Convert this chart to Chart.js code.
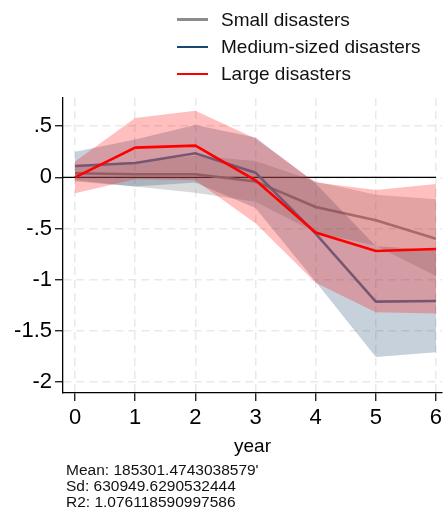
<!DOCTYPE html>
<html>
<head>
<meta charset="utf-8">
<script src="https://cdn.jsdelivr.net/npm/chart.js@4.4.1/dist/chart.umd.min.js"></script>
<style>
  html, body { margin: 0; padding: 0; background: #fff; }
  #wrap { position: relative; width: 447px; height: 507px; font-family: "Liberation Sans", Arial, Helvetica, sans-serif; color: #111; }
  #chart { position: absolute; left: 0; top: 0; }
  #legend { position: absolute; left: 177px; top: 6px; font-size: 19px; }
  #legend .row { display: flex; align-items: center; height: 27px; }
  #legend .key { width: 31px; margin-right: 13px; }
  #notes { position: absolute; left: 66px; top: 462px; font-size: 15.5px; line-height: 16px; white-space: pre; }
</style>
</head>
<body>
<div id="wrap">
  <canvas id="chart" width="447" height="507"></canvas>
  <div id="legend"></div>
  <div id="notes"></div>
</div>
<script>
// datos
const years = [0, 1, 2, 3, 4, 5, 6];
const xTicks = [0, 1, 2, 3, 4, 5, 6];
const yTicks = [-2, -1.5, -1, -0.5, 0, 0.5];
const yTickLabels = ['-2', '-1.5', '-1', '-.5', '0', '.5'];

const smallCoef = [0.04, 0.03, 0.03, -0.04, -0.29, -0.42, -0.60];
const smallLo   = [-0.04, -0.09, -0.15, -0.24, -0.54, -0.67, -0.965];
const smallHi   = [0.12, 0.15, 0.21, 0.16, -0.04, -0.17, -0.215];

const medCoef = [0.11, 0.14, 0.235, 0.045, -0.55, -1.215, -1.21];
const medLo   = [-0.03, -0.09, -0.05, -0.30, -1.02, -1.755, -1.71];
const medHi   = [0.25, 0.37, 0.51, 0.39, -0.06, -0.675, -0.71];

const largeCoef = [0, 0.29, 0.31, -0.03, -0.54, -0.72, -0.70];
const largeLo   = [-0.155, -0.02, -0.03, -0.45, -1.03, -1.32, -1.33];
const largeHi   = [0.155, 0.58, 0.65, 0.38, -0.05, -0.125, -0.065];

const seriesLabels = ['Small disasters', 'Medium-sized disasters', 'Large disasters'];
const notes = ["Mean: 185301.4743038579'", 'Sd: 630949.6290532444', 'R2: 1.076118590997586'];

const COLORS = {
  small:  { key: '#8c8c8c', line: '#8c8c8c', band: 'rgba(128,128,128,0.30)', width: 2.5 },
  medium: { key: '#1a476f', line: '#4a7595', band: 'rgba(26,71,111,0.25)', width: 2.5 },
  large:  { key: '#ff0000', line: '#ff0000', band: 'rgba(255,0,0,0.25)', width: 2.6 }
};

function pts(ys) {
  return years.map((x, i) => ({ x: x, y: ys[i] }));
}

function grupo(label, coef, lo, hi, c, baseOrder) {
  return [
    { label: label + ' lo', data: pts(lo), borderWidth: 0, pointRadius: 0, fill: false, order: baseOrder + 2 },
    { label: label + ' hi', data: pts(hi), borderWidth: 0, pointRadius: 0, fill: '-1', backgroundColor: c.band, order: baseOrder + 1 },
    { label: label, data: pts(coef), borderColor: c.line, borderWidth: c.width, pointRadius: 0, fill: false, tension: 0, order: baseOrder }
  ];
}

const zeroLine = {
  id: 'zeroLine',
  beforeDatasetsDraw(chart) {
    const { ctx, chartArea, scales } = chart;
    const y0 = scales.y.getPixelForValue(0);
    const xEnd = scales.x.getPixelForValue(years[years.length - 1]);
    ctx.save();
    ctx.strokeStyle = '#000';
    ctx.lineWidth = 1.2;
    ctx.beginPath();
    ctx.moveTo(chartArea.left, y0);
    ctx.lineTo(xEnd, y0);
    ctx.stroke();
    ctx.restore();
  }
};

const gridBase = {
  color: '#e9e9e9',
  lineWidth: 1.5,
  drawTicks: true,
  tickLength: 8,
  tickColor: '#000',
  tickWidth: 1.2,
  tickBorderDash: []
};
const borderBase = { color: '#000', width: 1.3, dash: [8, 5] };

new Chart(document.getElementById('chart').getContext('2d'), {
  type: 'line',
  data: {
    datasets: [
      ...grupo(seriesLabels[0], smallCoef, smallLo, smallHi, COLORS.small, 6),
      ...grupo(seriesLabels[1], medCoef, medLo, medHi, COLORS.medium, 3),
      ...grupo(seriesLabels[2], largeCoef, largeLo, largeHi, COLORS.large, 0)
    ]
  },
  options: {
    responsive: false,
    animation: false,
    layout: { padding: { left: 0, top: 98, right: 5, bottom: 46 } },
    plugins: { legend: { display: false }, tooltip: { enabled: false } },
    scales: {
      x: {
        type: 'linear',
        min: -0.2,
        max: 6.1,
        afterBuildTicks: s => { s.ticks = xTicks.map(v => ({ value: v })); },
        afterFit: s => { s.height = 68; },
        grid: gridBase,
        border: borderBase,
        ticks: { color: '#000', font: { family: 'Liberation Sans', size: 22 }, padding: 4, maxRotation: 0 },
        title: { display: true, text: 'year', color: '#000', font: { family: 'Liberation Sans', size: 19 }, padding: { top: 0, bottom: 3 } }
      },
      y: {
        type: 'linear',
        min: -2.108,
        max: 0.775,
        afterBuildTicks: s => { s.ticks = yTicks.map(v => ({ value: v })); },
        afterFit: s => { s.width = 63; },
        grid: gridBase,
        border: borderBase,
        ticks: {
          color: '#000',
          font: { family: 'Liberation Sans', size: 22 },
          padding: 3,
          callback: v => yTickLabels[yTicks.indexOf(v)]
        }
      }
    }
  },
  plugins: [zeroLine]
});

// leyenda y notas en HTML
const legendWidths = [3, 2, 2];
const legendKeys = [COLORS.small.key, COLORS.medium.key, COLORS.large.key];
document.getElementById('legend').innerHTML = seriesLabels.map((t, i) =>
  '<div class="row"><span class="key" style="border-top:' + legendWidths[i] + 'px solid ' + legendKeys[i] + '"></span>' + t + '</div>'
).join('');
document.getElementById('notes').textContent = notes.join('\n');
</script>
</body>
</html>
